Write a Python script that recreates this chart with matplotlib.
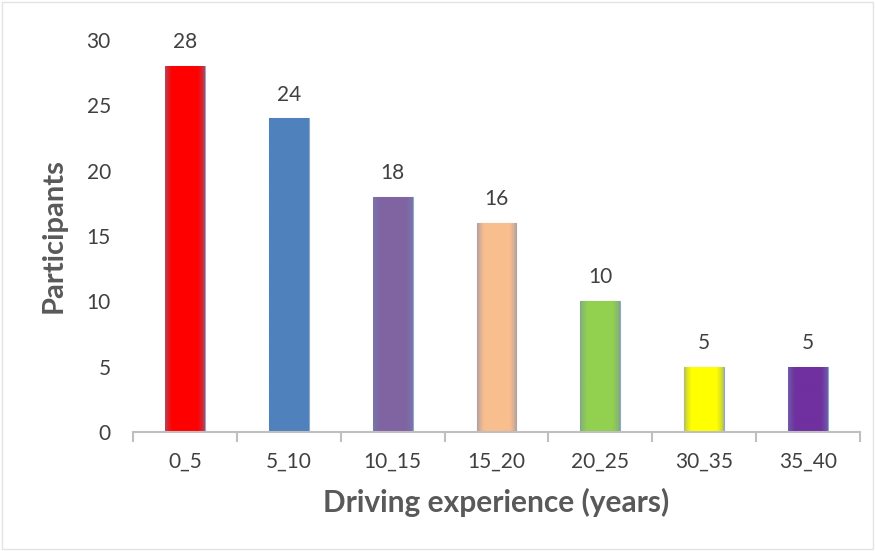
import numpy as np
import matplotlib.pyplot as plt
from matplotlib.colors import to_rgb
from matplotlib.patches import Rectangle

plt.rcParams['font.family'] = ['Lato', 'DejaVu Sans']

categories = ["0_5", "5_10", "10_15", "15_20", "20_25", "30_35", "35_40"]
participants = [28, 24, 18, 16, 10, 5, 5]
bar_colors = ["#FF0000", "#4F81BD", "#8064A2", "#F9BE8E", "#92D050", "#FFFF00", "#7030A0"]
edge_tint = "#6F86B0"

fig = plt.figure(figsize=(8.75, 5.51), dpi=100)
ax = fig.add_axes([133 / 875, 1 - 432 / 551, 727 / 875, 392 / 551])

x = np.arange(len(categories))
bars = ax.bar(x, participants, width=0.385, color=bar_colors,
              edgecolor="#8FA8CC", linewidth=0.8, zorder=2)

# soft edge shading like the original office-style fill
for rect, col in zip(bars, bar_colors):
    c = np.array(to_rgb(col))
    e = np.array(to_rgb(edge_tint))
    nx, ny = 60, 200
    u = np.linspace(0, 1, nx)
    dx = np.minimum(u, 1 - u) * 2
    w = np.clip(dx / 0.35, 0, 1) ** 0.7
    t = np.tile(w, (ny, 1))
    if col == "#4F81BD":
        t[:] = 1
    img = e * (1 - t[..., None]) * 0.55 + c * (1 - (1 - t[..., None]) * 0.55)
    x0, y0 = rect.get_x(), rect.get_y()
    im = ax.imshow(img, extent=[x0, x0 + rect.get_width(), y0, y0 + rect.get_height()],
                   aspect="auto", origin="lower", zorder=2.5, interpolation="bilinear")
    im.set_clip_path(rect)

for xi, v in zip(x, participants):
    ax.annotate(str(v), (xi, v), xytext=(0, 10), textcoords="offset points",
                ha="center", va="bottom", fontsize=15, color="#404040")

ax.set_xlim(-0.5, len(categories) - 0.5)
ax.set_ylim(0, 30)
ax.set_yticks([0, 5, 10, 15, 20, 25, 30])
ax.set_xticks(x)
ax.set_xticklabels(categories)
ax.set_xticks(np.arange(-0.5, len(categories)), minor=True)

for s in ["top", "right", "left"]:
    ax.spines[s].set_visible(False)
ax.spines["bottom"].set_color("#BFBFBF")
ax.spines["bottom"].set_linewidth(1.5)

ax.tick_params(axis="x", which="major", length=0, pad=14, labelsize=15, labelcolor="#404040")
ax.tick_params(axis="x", which="minor", length=7, width=1.5, color="#BFBFBF")
ax.tick_params(axis="y", length=0, pad=16, labelsize=15, labelcolor="#404040")

ax.set_xlabel("Driving experience (years)", fontsize=21.5, fontweight="bold",
              color="#595959", labelpad=12)
ax.set_ylabel("Participants", fontsize=21, fontweight="bold", color="#595959", labelpad=14)

fig.patches.append(Rectangle((0.002, 0.004), 0.996, 0.993, transform=fig.transFigure,
                             fill=False, edgecolor="#E3E3E3", linewidth=1))

fig.savefig("out.png", dpi=100)
